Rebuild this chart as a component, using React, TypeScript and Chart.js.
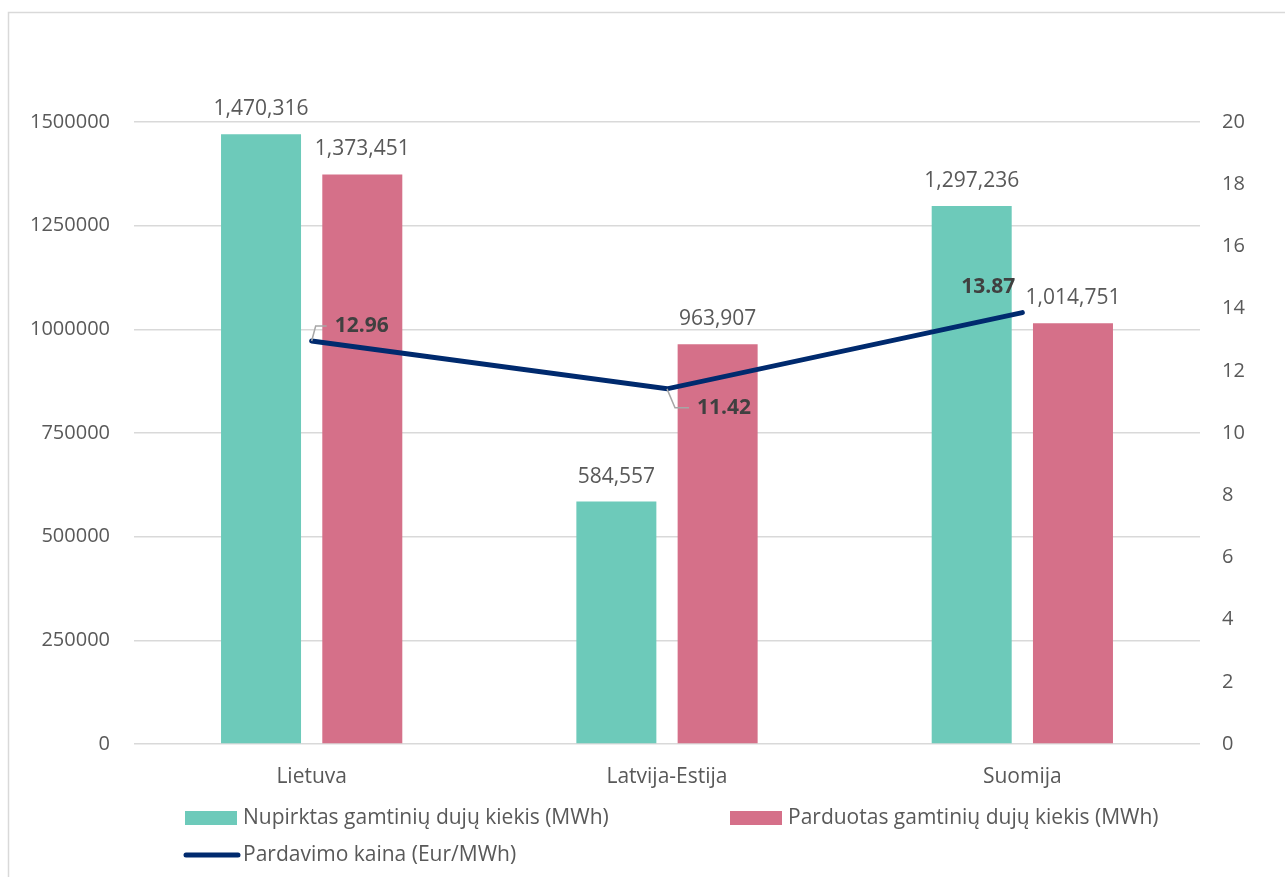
import React, { useEffect, useRef } from "react";
import { Chart, registerables } from "chart.js";

Chart.register(...registerables);

const categories = ["Lietuva", "Latvija-Estija", "Suomija"];
const boughtLabel = "Nupirktas gamtinių dujų kiekis (MWh)";
const soldLabel = "Parduotas gamtinių dujų kiekis (MWh)";
const priceLabel = "Pardavimo kaina (Eur/MWh)";
const boughtValues = [1470316, 584557, 1297236];
const soldValues = [1373451, 963907, 1014751];
const priceValues = [12.96, 11.42, 13.87];
const leftTicks = [0, 250000, 500000, 750000, 1000000, 1250000, 1500000];
const rightTicks = [0, 2, 4, 6, 8, 10, 12, 14, 16, 18, 20];

const FONT = "'Open Sans', sans-serif";
const TEXT = "#595959";
const GREEN = "#6DCABA";
const PINK = "#D57089";
const NAVY = "#002A6E";
const GRID = "#D9D9D9";

const labelsPlugin = {
  id: "customLabels",
  beforeDraw(chart: any) {
    const ctx = chart.ctx;
    ctx.save();
    ctx.fillStyle = "#ffffff";
    ctx.fillRect(0, 0, chart.width, chart.height);
    ctx.strokeStyle = GRID;
    ctx.lineWidth = 1.5;
    ctx.strokeRect(8.5, 12.5, chart.width + 20, chart.height + 20);
    ctx.restore();
  },
  afterDatasetsDraw(chart: any) {
    const ctx = chart.ctx;
    ctx.save();
    // bar labels
    ctx.font = `21px ${FONT}`;
    ctx.fillStyle = TEXT;
    ctx.textAlign = "center";
    ctx.textBaseline = "middle";
    [0, 1].forEach((di) => {
      const meta = chart.getDatasetMeta(di);
      meta.data.forEach((el: any, i: number) => {
        const v = chart.data.datasets[di].data[i] as number;
        ctx.fillText(v.toLocaleString("en-US"), el.x, el.y - 25);
      });
    });
    // line labels with leaders
    const lineMeta = chart.getDatasetMeta(2);
    const offs = [
      { dx: 23, dy: -15, align: "left", leader: true },
      { dx: 30, dy: 19, align: "left", leader: true },
      { dx: -7, dy: -26, align: "right", leader: false },
    ];
    ctx.font = `bold 21px ${FONT}`;
    ctx.fillStyle = "#404040";
    lineMeta.data.forEach((el: any, i: number) => {
      const o = offs[i];
      const v = chart.data.datasets[2].data[i] as number;
      const lx = el.x + o.dx;
      const ly = el.y + o.dy;
      if (o.leader) {
        ctx.strokeStyle = "#A6A6A6";
        ctx.lineWidth = 1.5;
        ctx.beginPath();
        ctx.moveTo(el.x, el.y);
        ctx.lineTo(el.x + (o.dy < 0 ? 4 : 8), ly);
        ctx.lineTo(lx - 8, ly);
        ctx.stroke();
      }
      ctx.textAlign = o.align;
      ctx.fillText(v.toFixed(2), lx, ly);
    });
    ctx.restore();
  },
  afterDraw(chart: any) {
    const ctx = chart.ctx;
    ctx.save();
    ctx.font = `21px ${FONT}`;
    ctx.fillStyle = TEXT;
    ctx.textAlign = "left";
    ctx.textBaseline = "middle";
    const ds = chart.data.datasets;
    // row 1
    ctx.fillStyle = ds[0].backgroundColor;
    ctx.fillRect(185, 811, 52, 14);
    ctx.fillStyle = TEXT;
    ctx.fillText(ds[0].label, 243, 818);
    ctx.fillStyle = ds[1].backgroundColor;
    ctx.fillRect(730, 811, 52, 14);
    ctx.fillStyle = TEXT;
    ctx.fillText(ds[1].label, 788, 818);
    // row 2
    ctx.strokeStyle = ds[2].borderColor;
    ctx.lineWidth = 5;
    ctx.lineCap = "round";
    ctx.beginPath();
    ctx.moveTo(186, 855);
    ctx.lineTo(238, 855);
    ctx.stroke();
    ctx.fillStyle = TEXT;
    ctx.fillText(ds[2].label, 243, 855);
    ctx.restore();
  },
};

export default function App() {
  const ref = useRef<HTMLCanvasElement>(null);
  useEffect(() => {
    if (!ref.current) return;
    const chart = new Chart(ref.current, {
      type: "bar",
      data: {
        labels: categories,
        datasets: [
          {
            type: "bar",
            label: boughtLabel,
            data: boughtValues,
            backgroundColor: GREEN,
            yAxisID: "y",
            order: 2,
            categoryPercentage: 0.57,
            barPercentage: 0.79,
          },
          {
            type: "bar",
            label: soldLabel,
            data: soldValues,
            backgroundColor: PINK,
            yAxisID: "y",
            order: 2,
            categoryPercentage: 0.57,
            barPercentage: 0.79,
          },
          {
            type: "line",
            label: priceLabel,
            data: priceValues,
            borderColor: NAVY,
            backgroundColor: NAVY,
            borderWidth: 5,
            pointRadius: 0,
            tension: 0,
            borderCapStyle: "round",
            yAxisID: "y1",
            order: 1,
          } as any,
        ],
      },
      options: {
        animation: false,
        responsive: false,
        maintainAspectRatio: false,
        layout: { padding: { top: 122, left: 0, right: 0, bottom: 0 } },
        plugins: {
          legend: { display: false },
          tooltip: { enabled: false },
        },
        scales: {
          x: {
            grid: { display: false, drawTicks: false },
            border: { display: false },
            ticks: { color: TEXT, font: { family: FONT, size: 21 }, padding: 20 },
            afterFit: (s: any) => {
              s.height = 133;
            },
          },
          y: {
            position: "left",
            min: 0,
            max: 1500000,
            grid: { color: GRID, lineWidth: 1.5, drawTicks: false },
            border: { display: false },
            afterBuildTicks: (s: any) => {
              s.ticks = leftTicks.map((v) => ({ value: v }));
            },
            ticks: {
              color: TEXT,
              font: { family: FONT, size: 20 },
              padding: 24,
              callback: (v: any) => String(v),
            },
            afterFit: (s: any) => {
              s.width = 134;
            },
          },
          y1: {
            position: "right",
            min: 0,
            max: 20,
            grid: { display: false, drawTicks: false },
            border: { display: false },
            afterBuildTicks: (s: any) => {
              s.ticks = rightTicks.map((v) => ({ value: v }));
            },
            ticks: {
              color: TEXT,
              font: { family: FONT, size: 20 },
              padding: 22,
              callback: (v: any) => String(v),
            },
            afterFit: (s: any) => {
              s.width = 85;
            },
          },
        },
      },
      plugins: [labelsPlugin],
    });
    return () => chart.destroy();
  }, []);
  return (
    <div style={{ position: "fixed", left: 0, top: 0, width: 1285, height: 877, overflow: "hidden" }}>
      <canvas ref={ref} width={1285} height={877} style={{ width: 1285, height: 877, display: "block" }} />
    </div>
  );
}
